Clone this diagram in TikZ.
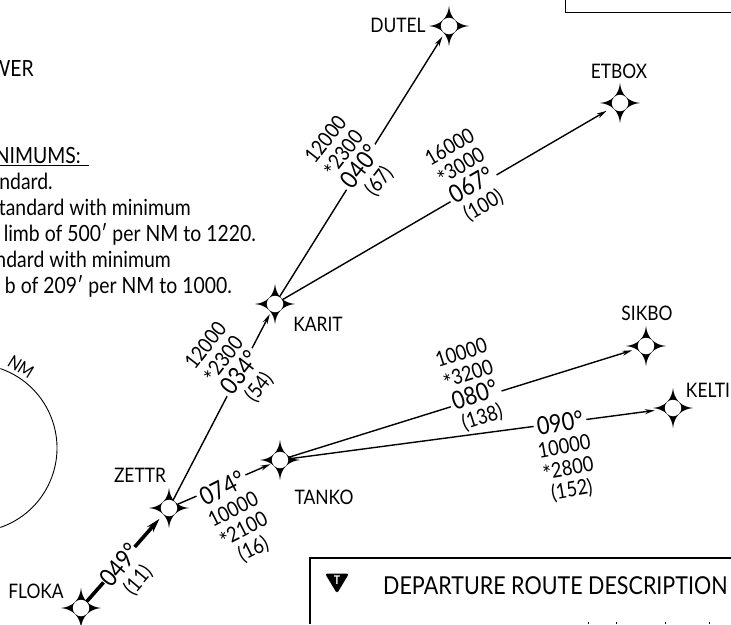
\documentclass[tikz,border=0pt]{standalone}
\usepackage{fontspec}
\setmainfont[FakeStretch=0.87]{Lato}
\usetikzlibrary{arrows.meta,positioning}

\newcommand{\wpnode}[3]{%
  \fill[shift={(#2,#3)}] (0,20) .. controls (1.2,8.2) and (8.2,1.2) .. (20,0)
     .. controls (8.2,-1.2) and (1.2,-8.2) .. (0,-20)
     .. controls (-1.2,-8.2) and (-8.2,-1.2) .. (-20,0)
     .. controls (-8.2,1.2) and (-1.2,8.2) .. (0,20);
  \node [wpt] (#1) at (#2,#3) {};
}
\newcommand{\brg}[1]{{\fontsize{25}{22}\selectfont #1}}
\newcommand{\alt}[1]{\raisebox{-.4ex}{\fontsize{24}{22}\selectfont *}#1}

\begin{document}
\begin{tikzpicture}[x=1pt, y=1pt,
      >={Stealth[length=10pt,width=5pt]},
      every node/.append style={align=center},
      wpt/.style={circle, fill=white, inner sep=0pt, minimum size=16.5pt},
      fix/.style={font=\fontsize{20}{20}\selectfont, inner sep=0pt},
      note/.style={font=\fontsize{22.3}{22.3}\selectfont, inner sep=0pt, anchor=base east},
      leg/.style={fill=white, inner sep=0pt, font=\fontsize{21}{22}\selectfont},
      rte/.style={line width=1.4pt}]

     \useasboundingbox (0,-624) rectangle (731,0);

     % fixes
     \wpnode{DUTEL}{449}{-26}
     \wpnode{ETBOX}{620}{-103}
     \wpnode{KARIT}{275}{-304}
     \wpnode{SIKBO}{646}{-346}
     \wpnode{KELTI}{673}{-408}
     \wpnode{TANKO}{280}{-460}
     \wpnode{ZETTR}{169}{-508}
     \wpnode{FLOKA}{81}{-608}

     \node [fix] (lDUTEL) at (398,-25)  {DUTEL};
     \node [fix] (lETBOX) at (619,-71)  {ETBOX};
     \node [fix] (lKARIT) at (318,-324) {KARIT};
     \node [fix] (lSIKBO) at (647,-313) {SIKBO};
     \node [fix] (lKELTI) at (708,-390) {KELTI};
     \node [fix] (lTANKO) at (324,-497) {TANKO};
     \node [fix] (lZETTR) at (140,-475) {ZETTR};
     \node [fix] (lFLOKA) at (36,-591)  {FLOKA};

     % routes
     \path[->, rte] (KARIT) edge[shorten >=4pt] (DUTEL)
               (KARIT) edge[shorten >=7pt] (ETBOX)
               (ZETTR) edge[shorten >=3pt] (KARIT)
               (ZETTR) edge[shorten >=2pt] (TANKO)
               (TANKO) edge[shorten >=6pt] (SIKBO)
               (TANKO) edge[shorten >=10pt] (KELTI);
     \path[-{Stealth[length=14pt,width=8pt]}, line width=3.6pt]
               (FLOKA) edge[shorten >=6pt] (ZETTR);

     % leg data
     \node [leg, rotate=52] (legDUTEL) at (353,-161)
        {12000\\\alt{2300}\\\brg{040°}\\(67)};
     \node [leg, rotate=30] (legETBOX) at (467,-177)
        {16000\\\alt{3000}\\\brg{067°}\\(100)};
     \node [leg, rotate=52] (legKARIT) at (233,-367)
        {12000\\\alt{2300}\\\brg{034°}\\(54)};
     \node [leg, rotate=27] (legTANKO) at (238,-519)
        {\brg{074°}\\10000\\\alt{2100}\\(16)};
     \node [leg, rotate=18] (legSIKBO) at (472,-386)
        {10000\\\alt{3200}\\\brg{080°}\\(138)};
     \node [leg, rotate=10] (legKELTI) at (566,-457)
        {\brg{090°}\\10000\\\alt{2800}\\(152)};
     \node [leg, rotate=50] (legZETTR) at (129,-573)
        {\brg{049°}\\(11)};

     % left notes
     \node [note] (nWER)  at (34,-76)   {WER};
     \node [note] (nHEAD) at (81,-163)  {NIMUMS:};
     \node [note] (nA)    at (53,-189)  {ndard.};
     \node [note] (nB)    at (191,-215) {tandard with minimum};
     \node [note] (nC)    at (256,-241) {limb of 500′ per NM to 1220.};
     \node [note] (nD)    at (171,-267) {ndard with minimum};
     \node [note] (nE)    at (232,-293) {b of 209′ per NM to 1000.};
     \draw[line width=.8pt] (0,-165) -- (89,-165);

     \draw[line width=.9pt] (-27,-448) ++(-71:84) arc (-71:71:84);
     \node [fix, rotate=-32, font=\fontsize{18}{18}\selectfont] (nNM) at (21,-367) {NM};

     % boxes
     \draw[line width=1pt] (565,0) -- (565,-12) -- (731,-12);
     \draw[line width=1.6pt] (310,-624) -- (310,-558) -- (731,-558);
     \foreach \tx in {588,616,665,709}
        \fill (\tx,-624) rectangle +(1.4,2);

     \node [fix, font=\fontsize{24.7}{24.7}\selectfont, anchor=base west] (desc) at (383,-594)
        {DEPARTURE ROUTE DESCRIPTION};
     \fill[rounded corners=2.5pt] (325,-573.5) -- (349,-573.5) -- (337,-593.5) -- cycle;
     \node [fix, text=white, font=\bfseries\fontsize{12}{12}\selectfont] (tsym) at (337,-580.5) {T};
  \end{tikzpicture}
\end{document}
